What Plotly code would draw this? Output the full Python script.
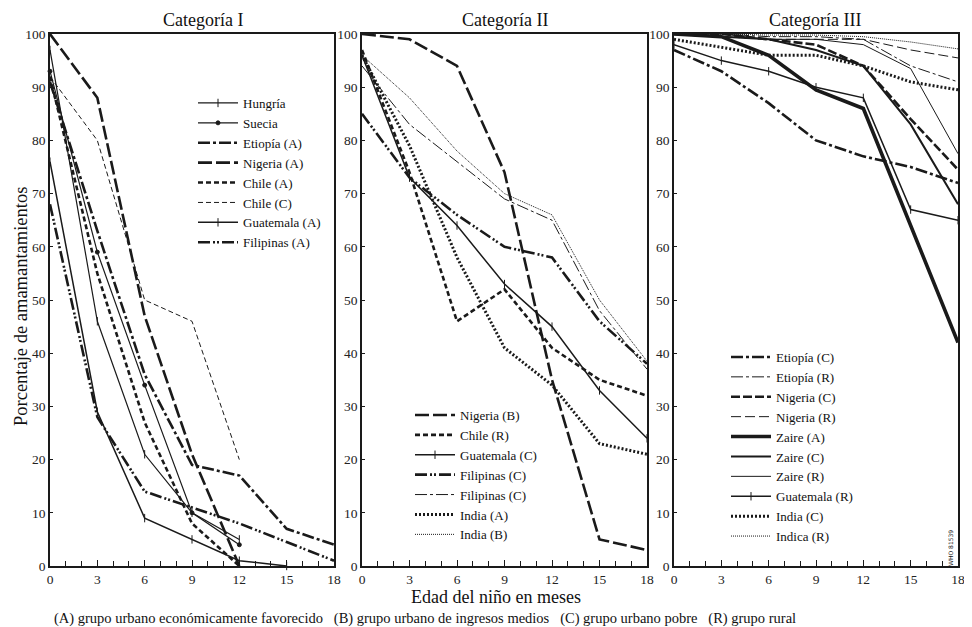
import plotly.graph_objects as go

months = [0, 3, 6, 9, 12, 15, 18]
N = None

# Categoría I
cat1_names = ["Hungría", "Suecia", "Etiopía (A)", "Nigeria (A)", "Chile (A)", "Chile (C)", "Guatemala (A)", "Filipinas (A)"]
hungria = [97, 46, 21, 10, 5, N, N]
suecia = [93, 59, 34, 10, 4, N, N]
etiopia_a = [91, 63, 36, 19, 17, 7, 4]
nigeria_a = [100, 88, 47, 21, 0, N, N]
chile_a = [92, 55, 27, 8, 0, N, N]
chile_c = [92, 80, 50, 46, 20, N, N]
guatemala_a = [76, 29, 9, 5, 1, 0, N]
filipinas_a = [68, 28, 14, 11, 8, 4.5, 1]

# Categoría II
cat2_names = ["Nigeria (B)", "Chile (R)", "Guatemala (C)", "Filipinas (C)", "Filipinas (C)", "India (A)", "India (B)"]
nigeria_b = [100, 99, 94, 74, 35, 5, 3]
chile_r = [97, 74, 46, 52, 41, 35, 32]
guatemala_c = [96, 73, 64, 53, 45, 33, 24]
filipinas_c1 = [85, 73, 66, 60, 58, 46, 38]
filipinas_c2 = [94, 83, 76, 69, 65, 48, 37]
india_a = [96, 79, 58, 41, 34, 23, 21]
india_b = [96, 88, 78, 70, 66, 50, 38.5]

# Categoría III
cat3_names = ["Etiopía (C)", "Etiopía (R)", "Nigeria (C)", "Nigeria (R)", "Zaire (A)", "Zaire (C)", "Zaire (R)", "Guatemala (R)", "India (C)", "Indica (R)"]
etiopia_c = [97, 93, 87, 80, 77, 75, 72]
etiopia_r = [100, 100, 99.5, 99.5, 99, 94, 91]
nigeria_c = [100, 100, 99, 98, 94, 84, 74.5]
nigeria_r = [100, 99.5, 99, 99, 99, 97, 95.5]
zaire_a = [100, 99.5, 96, 89.5, 86, 64, 42]
zaire_c = [100, 99.5, 99, 97, 94, 83, 68]
zaire_r = [100, 100, 99, 99, 98, 93.5, 77.5]
guatemala_r = [98, 95, 93, 90, 88, 67, 65]
india_c = [99, 97.5, 96, 96, 94, 91, 89.5]
indica_r = [100, 100, 99.8, 99.8, 99.5, 98.5, 97.2]

x_ticks = [0, 3, 6, 9, 12, 15, 18]
y_ticks = [0, 10, 20, 30, 40, 50, 60, 70, 80, 90, 100]

C = "#1a1a1a"
SERIF = "'Liberation Serif', 'Times New Roman', Times, 'DejaVu Serif', serif"

DASHDOT = "12px,3px,3px,3px"
DASHDOTDOT = "12px,3px,2px,2px,2px,3px"
LONGDASH = "14px,4px"
SHORTDASH = "5px,3px"
DOT_THICK = "2px,2px"
DOT_THIN = "1px,1px"

fig = go.Figure()

def add(name, y, xa, ya, leg, width, dash="solid", marker=None):
    kw = dict(mode="lines")
    if marker:
        kw["mode"] = "lines+markers"
        kw["marker"] = dict(symbol=marker[0], size=marker[1], color=C, line=dict(color=C, width=1))
        kw["cliponaxis"] = False
    fig.add_trace(go.Scatter(x=months, y=y, name=name, xaxis=xa, yaxis=ya, legend=leg,
                             line=dict(color=C, width=width, dash=dash), connectgaps=False,
                             hoverinfo="skip", **kw))

series1 = [hungria, suecia, etiopia_a, nigeria_a, chile_a, chile_c, guatemala_a, filipinas_a]
styles1 = [(1.2, "solid", ("line-ns-open", 6)), (1.2, "solid", ("circle", 4)),
           (2.6, DASHDOT, None), (2.6, LONGDASH, None), (2.6, SHORTDASH, None),
           (1.0, SHORTDASH, None), (1.5, "solid", ("line-ns-open", 6)), (2.6, DASHDOTDOT, None)]
for n, y, s in zip(cat1_names, series1, styles1):
    add(n, y, "x", "y", "legend", s[0], s[1], s[2])

series2 = [nigeria_b, chile_r, guatemala_c, filipinas_c1, filipinas_c2, india_a, india_b]
styles2 = [(2.6, LONGDASH, None), (2.6, SHORTDASH, None), (1.5, "solid", ("line-ns-open", 6)),
           (2.6, DASHDOTDOT, None), (1.0, DASHDOT, None), (3.0, DOT_THICK, None), (1.0, DOT_THIN, None)]
for n, y, s in zip(cat2_names, series2, styles2):
    add(n, y, "x2", "y2", "legend2", s[0], s[1], s[2])

series3 = [etiopia_c, etiopia_r, nigeria_c, nigeria_r, zaire_a, zaire_c, zaire_r, guatemala_r, india_c, indica_r]
styles3 = [(2.6, DASHDOT, None), (1.0, DASHDOT, None), (2.6, "9px,3px", None), (1.0, "10px,4px", None),
           (3.6, "solid", None), (2.0, "solid", None), (1.0, "solid", None), (1.5, "solid", ("line-ns-open", 6)),
           (3.0, DOT_THICK, None), (1.0, DOT_THIN, None)]
for n, y, s in zip(cat3_names, series3, styles3):
    add(n, y, "x3", "y3", "legend3", s[0], s[1], s[2])

# page offset (body margin) compensation
OFF = 8
W, H = 972 - OFF, 627 - OFF
L, T = 50 - OFF, 34 - OFF
R = W - (958 - OFF)
B = H - (566 - OFF)
pw = W - L - R
ph = H - T - B

def px_x(p):
    return (p - OFF - L) / pw

def px_y(p):
    return (H - B - (p - OFF)) / ph

domains = [(50, 334), (362, 647), (674, 958)]
tickfont = dict(family=SERIF, size=13.5, color="#222")
for i, (a, b) in enumerate(domains):
    sfx = "" if i == 0 else str(i + 1)
    fig.layout["xaxis" + sfx] = dict(
        domain=[px_x(a), px_x(b)], range=[0, 18], tickvals=x_ticks, ticktext=[str(v) for v in x_ticks],
        ticks="inside", ticklen=6, tickcolor=C, showline=True, mirror=True, linecolor=C, linewidth=1.5,
        showgrid=False, zeroline=False, tickfont=tickfont, anchor="y" + sfx,
        minor=dict(dtick=1, tick0=0, ticks="inside", ticklen=5, tickcolor=C, showgrid=False))
    fig.layout["yaxis" + sfx] = dict(
        domain=[0, 1], range=[0, 100], tickvals=y_ticks, ticks="inside", ticklen=3, tickcolor=C,
        showline=True, mirror=True, linecolor=C, linewidth=1.5, showgrid=False, zeroline=False,
        tickfont=tickfont, anchor="x" + sfx)

legfont = dict(family=SERIF, size=13, color="#111")
common_leg = dict(bgcolor="rgba(0,0,0,0)", borderwidth=0, font=legfont, xanchor="left", yanchor="top",
                  tracegroupgap=0, itemwidth=40)
fig.update_layout(
    legend=dict(x=px_x(193), y=px_y(88), **common_leg),
    legend2=dict(x=px_x(410), y=px_y(400), **common_leg),
    legend3=dict(x=px_x(726), y=px_y(342), **common_leg),
)

ann = []
titlefont = dict(family=SERIF, size=18, color="#111")
for txt, cx in [("Categoría I", 203), ("Categoría II", 505), ("Categoría III", 815)]:
    ann.append(dict(text=txt, x=px_x(cx), y=px_y(20), xref="paper", yref="paper", showarrow=False,
                    xanchor="center", yanchor="middle", font=titlefont))
ann.append(dict(text="Porcentaje de amamantamientos", x=px_x(21), y=px_y(307), xref="paper", yref="paper",
                showarrow=False, textangle=-90, xanchor="center", yanchor="middle",
                font=dict(family=SERIF, size=18.5, color="#111")))
ann.append(dict(text="Edad del niño en meses", x=px_x(496), y=px_y(597), xref="paper", yref="paper",
                showarrow=False, xanchor="center", yanchor="middle",
                font=dict(family=SERIF, size=18, color="#111")))
ann.append(dict(text="(A) grupo urbano económicamente favorecido   (B) grupo urbano de ingresos medios   "
                     "(C) grupo urbano pobre   (R) grupo rural",
                x=px_x(52), y=px_y(618), xref="paper", yref="paper", showarrow=False,
                xanchor="left", yanchor="middle", font=dict(family=SERIF, size=14.5, color="#111")))
ann.append(dict(text="WHO 81539", x=px_x(950), y=px_y(548), xref="paper", yref="paper", showarrow=False,
                textangle=-90, xanchor="center", yanchor="middle",
                font=dict(family="DejaVu Sans", size=6, color="#111")))

fig.update_layout(
    width=W, height=H, margin=dict(l=L, r=R, t=T, b=B, autoexpand=False),
    paper_bgcolor="white", plot_bgcolor="white", annotations=ann, showlegend=True,
    font=dict(family=SERIF, color="#111"),
)

fig.write_html("out.html")
